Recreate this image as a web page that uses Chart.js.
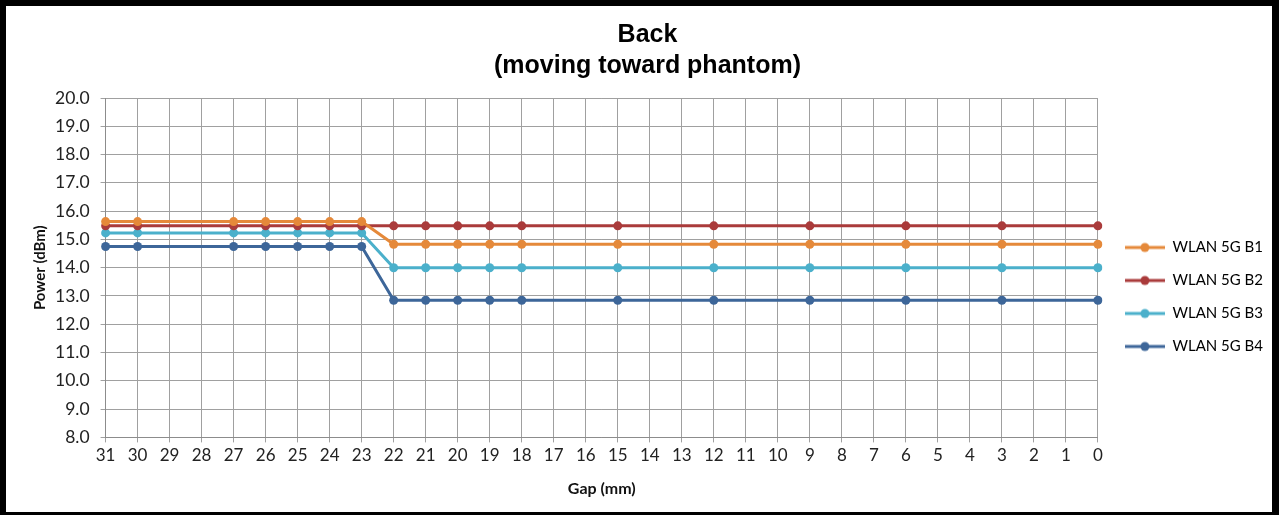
<!DOCTYPE html>
<html>
<head>
<meta charset="utf-8">
<script src="https://cdn.jsdelivr.net/npm/chart.js@4.4.1/dist/chart.umd.min.js"></script>
<style>
  html, body { margin: 0; padding: 0; background: #000; }
  #wrap { position: absolute; left: 6px; top: 6px; width: 1266px; height: 506px; background: #fff; }
  canvas { display: block; }
</style>
</head>
<body>
<div id="wrap"><canvas id="c" width="1266" height="506"></canvas></div>
<script>
const categories = ["31","30","29","28","27","26","25","24","23","22","21","20","19","18","17","16","15","14","13","12","11","10","9","8","7","6","5","4","3","2","1","0"];
const seriesNames = ["WLAN 5G B1", "WLAN 5G B2", "WLAN 5G B3", "WLAN 5G B4"];
const b1 = [15.63,15.63,null,null,15.63,15.63,15.63,15.63,15.63,14.83,14.83,14.83,14.83,14.83,null,null,14.83,null,null,14.83,null,null,14.83,null,null,14.83,null,null,14.83,null,null,14.83];
const b2 = [15.48,15.48,null,null,15.48,15.48,15.48,15.48,15.48,15.48,15.48,15.48,15.48,15.48,null,null,15.48,null,null,15.48,null,null,15.48,null,null,15.48,null,null,15.48,null,null,15.48];
const b3 = [15.23,15.23,null,null,15.23,15.23,15.23,15.23,15.23,14.0,14.0,14.0,14.0,14.0,null,null,14.0,null,null,14.0,null,null,14.0,null,null,14.0,null,null,14.0,null,null,14.0];
const b4 = [14.75,14.75,null,null,14.75,14.75,14.75,14.75,14.75,12.85,12.85,12.85,12.85,12.85,null,null,12.85,null,null,12.85,null,null,12.85,null,null,12.85,null,null,12.85,null,null,12.85];
const colors = ["#E5893A", "#AA3B3B", "#4BB0CB", "#3D6699"];
const yTicks = { min: 8, max: 20, step: 1 };

function swatch(color) {
  const cv = document.createElement('canvas');
  cv.width = 40; cv.height = 12;
  const g = cv.getContext('2d');
  g.strokeStyle = color; g.lineWidth = 3;
  g.beginPath(); g.moveTo(0, 6); g.lineTo(40, 6); g.stroke();
  g.fillStyle = color;
  g.beginPath(); g.arc(20, 6, 4.5, 0, Math.PI * 2); g.fill();
  return cv;
}

const seriesData = [b1, b2, b3, b4];
const datasets = seriesData.map((d, i) => ({
  label: seriesNames[i],
  data: d,
  borderColor: colors[i],
  backgroundColor: colors[i],
  borderWidth: 3,
  pointRadius: 4.5,
  pointHoverRadius: 4.5,
  pointBorderWidth: 0,
  pointStyle: 'circle',
  spanGaps: true,
  tension: 0
}));

const swatches = colors.map(swatch);

const legendShift = {
  id: 'legendShift',
  afterLayout(chart) {
    const L = chart.legend;
    if (!L) return;
    const dx = (chart.chartArea.right + 27) - (L.left + 18);
    L.left += dx; L.right += dx;
    const dy = 291 - (L.top + L.bottom) / 2;
    L.top += dy; L.bottom += dy;
  }
};

new Chart(document.getElementById('c'), {
  type: 'line',
  data: { labels: categories, datasets },
  options: {
    responsive: false,
    animation: false,
    layout: { padding: { left: 25, right: 8, top: 0, bottom: 14 } },
    plugins: {
      title: {
        display: true,
        text: ["Back", "(moving toward phantom)"],
        color: '#000',
        font: { family: 'Liberation Sans', size: 25, weight: 'bold', lineHeight: 1.24 },
        padding: { top: 14, bottom: 16 }
      },
      legend: {
        position: 'right',
        labels: {
          color: '#222',
          font: { family: 'Lato', size: 15 },
          usePointStyle: true,
          pointStyleWidth: 40,
          padding: 18,
          generateLabels: (chart) => chart.data.datasets.map((ds, i) => ({
            text: ds.label,
            pointStyle: swatches[i],
            fillStyle: ds.borderColor,
            strokeStyle: ds.borderColor,
            lineWidth: 0,
            datasetIndex: i,
            hidden: false
          }))
        }
      },
      tooltip: { enabled: false }
    },
    scales: {
      x: {
        offset: false,
        grid: { color: '#A0A0A0', lineWidth: 1, tickLength: 5, drawTicks: true },
        border: { color: '#8C8C8C' },
        ticks: { color: '#222', font: { family: 'Lato', size: 17 }, maxRotation: 0, autoSkip: false, padding: 3 },
        title: { display: true, text: 'Gap (mm)', color: '#111', font: { family: 'Lato', size: 16, weight: 'bold' }, padding: { top: 10, bottom: 0 } }
      },
      y: {
        min: yTicks.min, max: yTicks.max,
        grid: { color: '#A0A0A0', lineWidth: 1, tickLength: 5 },
        border: { color: '#8C8C8C' },
        ticks: { stepSize: yTicks.step, color: '#222', font: { family: 'Lato', size: 17.5 }, padding: 11,
                 callback: v => Number(v).toFixed(1) },
        title: { display: true, text: 'Power (dBm)', color: '#111', font: { family: 'Lato', size: 15, weight: 'bold' }, padding: { top: 0, bottom: -5 } }
      }
    }
  },
  plugins: [legendShift]
});
</script>
</body>
</html>
